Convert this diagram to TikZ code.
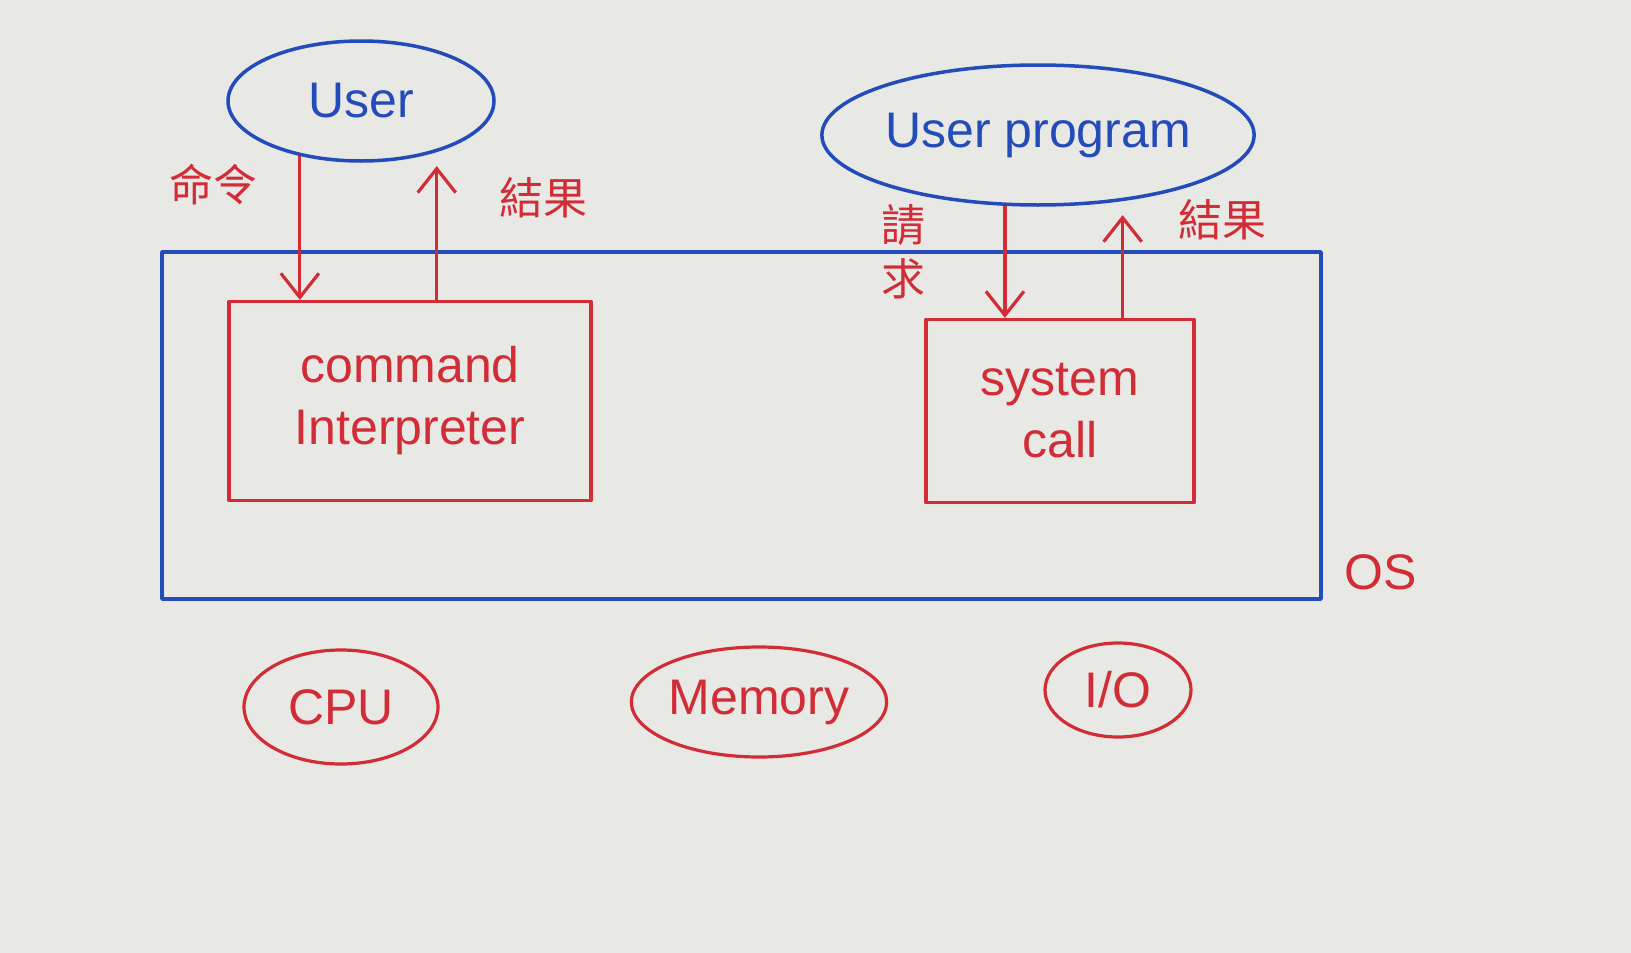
\documentclass[tikz,border=0pt]{standalone}
\usepackage{fontspec}
\setmainfont{Liberation Sans}
\newfontfamily\cjk{Noto Sans CJK TC}
\usetikzlibrary{shapes.geometric,arrows.meta}
\definecolor{penblue}{RGB}{35,75,185}
\definecolor{penred}{RGB}{210,45,55}
\definecolor{paper}{RGB}{232,232,228}
\tikzset{
  blueline/.style={draw=penblue, line width=3.5pt, line join=round},
  redline/.style={draw=penred, line width=3.2pt, line join=round},
  blueell/.style={ellipse, blueline, inner sep=0pt, text=penblue, font=\fontsize{50}{56}\selectfont},
  redell/.style={ellipse, redline, inner sep=0pt, text=penred, font=\fontsize{50}{56}\selectfont},
  redbox/.style={rectangle, redline, inner sep=0pt, text=penred, align=center, font=\fontsize{50}{62}\selectfont},
  redtext/.style={text=penred, inner sep=0pt, font=\fontsize{50}{56}\selectfont},
  cjklabel/.style={text=penred, inner sep=0pt, align=center, font=\cjk\fontsize{44}{48}\selectfont},
  arr/.style={draw=penred, line width=3.2pt, -{Straight Barb[length=24pt,width=38pt,line width=3.2pt]}}
}
\begin{document}
\begin{tikzpicture}[x=1pt,y=-1pt]
\fill[paper] (0,0) rectangle (1631,953);
\useasboundingbox (0,0) rectangle (1631,953);

% OS region
\draw[blueline] (162,252) rectangle (1321,599);
\node[redtext] (os) at (1381,572) {OS};

% top ellipses
\node[blueell, minimum width=266pt, minimum height=120pt] (user) at (361,101) {User};
\node[blueell, minimum width=384pt, minimum height=140pt] (uprog) at (1038,135) {User program};

% boxes
\node[redbox, minimum width=362pt, minimum height=199pt] (cmd) at (410,401) {command\\Interpreter};
\node[redbox, minimum width=268pt, minimum height=183pt] (sys) at (1060,411) {system\\call};

% arrows left
\draw[arr] (user.222.5) -- (user.222.5 |- cmd.north);
\draw[arr] (cmd.north -| user.-34.4) -- ([yshift=-14pt]user.-34.4);
\node[cjklabel] (cmdlbl) at (213,185) {命令};
\node[cjklabel] (res1) at (543,198) {結果};

% arrows right
\draw[arr] (uprog.245.1) -- (uprog.245.1 |- sys.north);
\draw[arr] (sys.north -| uprog.-38.5) -- ([yshift=-14pt]uprog.-38.5);
\node[cjklabel] (req) at (903,252) {請\\[6pt]求};
\node[cjklabel] (res2) at (1222,220) {結果};

% hardware
\node[redell, minimum width=194pt, minimum height=114pt] (cpu) at (341,707) {CPU};
\node[redell, minimum width=234pt, minimum height=110pt] (mem) at (759,702) {Memory};
\node[redell, minimum width=146pt, minimum height=94pt] (io) at (1118,690) {I/O};
\end{tikzpicture}
\end{document}
